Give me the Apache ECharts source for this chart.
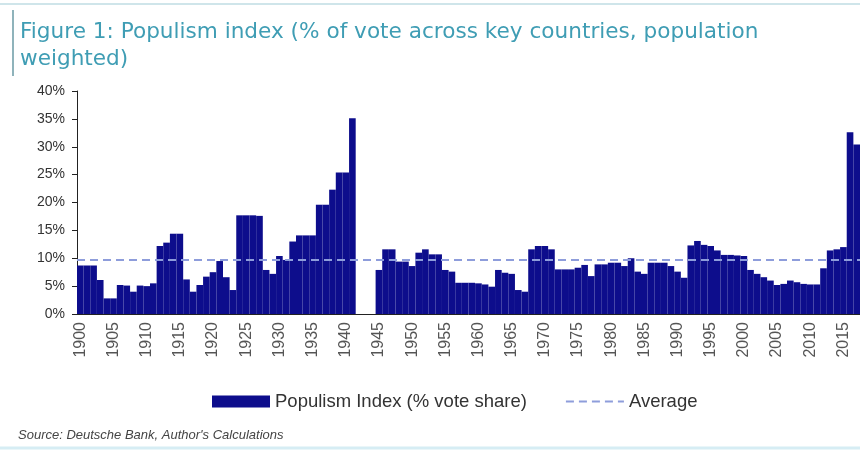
<!DOCTYPE html>
<html>
<head>
<meta charset="utf-8">
<script src="https://cdn.jsdelivr.net/npm/echarts@6/dist/echarts.min.js"></script>
<style>
  html, body { margin: 0; padding: 0; background: #fff; }
  #chart { width: 860px; height: 450px; }
</style>
</head>
<body>
<div id="chart"></div>
<script>
// years 1900 - 2017
var years = [];
for (var y = 1900; y <= 2017; y++) {
    years.push(String(y));
}

// populism index, % vote share (null = no elections 1942-44)
var populism = [
    8.7, 8.7, 8.7, 6.1, 2.8, 2.8, 5.2, 5.1, 4.0, 5.1,          // 1900s
    5.0, 5.5, 12.2, 12.8, 14.4, 14.4, 6.2, 4.0, 5.2, 6.7,      // 1910s
    7.5, 9.5, 6.6, 4.3, 17.7, 17.7, 17.7, 17.6, 7.9, 7.2,      // 1920s
    10.4, 9.7, 13.0, 14.1, 14.1, 14.1, 19.6, 19.6, 22.3, 25.4, // 1930s
    25.4, 35.1, null, null, null, 7.9, 11.6, 11.6, 9.4, 9.4,   // 1940s
    8.6, 11.0, 11.6, 10.7, 10.7, 7.9, 7.6, 5.6, 5.6, 5.6,      // 1950s
    5.5, 5.3, 4.9, 7.9, 7.4, 7.2, 4.3, 4.0, 11.6, 12.2,        // 1960s
    12.2, 11.6, 8.0, 8.0, 8.0, 8.3, 8.8, 6.8, 8.9, 8.9,        // 1970s
    9.2, 9.2, 8.6, 10.0, 7.6, 7.2, 9.2, 9.2, 9.2, 8.6,         // 1980s
    7.6, 6.5, 12.3, 13.1, 12.4, 12.2, 11.4, 10.6, 10.6, 10.5,  // 1990s
    10.4, 7.9, 7.2, 6.6, 6.0, 5.2, 5.4, 6.0, 5.7, 5.4,         // 2000s
    5.3, 5.3, 8.2, 11.4, 11.6, 12.0, 32.6, 30.4                // 2010s
];

var averageValue = 9.7;

var seriesNames = ['Populism Index (% vote share)', 'Average'];

var barColor = '#0d0d8c';
var avgColor = '#8e9ddb';
var font = 'Liberation Sans';

var myChart = echarts.init(document.getElementById('chart'));

var option = {
    animation: false,
    textStyle: { fontFamily: font },
    title: {
        text: 'Figure 1: Populism index (% of vote across key countries, population\nweighted)',
        left: 15,
        top: 14,
        textStyle: {
            fontFamily: 'DejaVu Sans',
            fontSize: 21.6,
            fontWeight: 'normal',
            color: '#3f9db4',
            lineHeight: 27
        }
    },
    grid: {
        left: 77,
        right: 0,
        top: 91,
        bottom: 136
    },
    legend: {
        left: 207,
        top: 387,
        itemWidth: 58,
        itemHeight: 12,
        itemGap: 38,
        textStyle: { fontSize: 18.5, color: '#333' },
        data: [
            { name: seriesNames[0], icon: 'rect' },
            { name: seriesNames[1], itemStyle: { opacity: 0 } }
        ]
    },
    xAxis: {
        type: 'category',
        data: years,
        boundaryGap: true,
        axisLine: { lineStyle: { color: '#222', width: 1 } },
        axisTick: { interval: 4, length: 5, lineStyle: { color: '#222' } },
        axisLabel: {
            interval: 4,
            rotate: 90,
            margin: 8,
            fontSize: 16,
            color: '#555'
        },
        splitLine: { show: false }
    },
    yAxis: {
        type: 'value',
        min: 0,
        max: 40,
        interval: 5,
        axisLine: { show: true, lineStyle: { color: '#222', width: 1 } },
        axisTick: { show: true, length: 5, lineStyle: { color: '#222' } },
        axisLabel: {
            formatter: '{value}%',
            fontSize: 14,
            margin: 12,
            color: '#333'
        },
        splitLine: { show: false }
    },
    series: [
        {
            name: seriesNames[0],
            type: 'bar',
            data: populism,
            barCategoryGap: '0%',
            itemStyle: { color: barColor },
            markLine: {
                silent: true,
                symbol: ['none', 'none'],
                label: { show: false },
                lineStyle: { color: avgColor, type: [8, 5], width: 2 },
                data: [{ yAxis: averageValue }]
            }
        },
        {
            name: seriesNames[1],
            type: 'line',
            data: [],
            symbol: 'none',
            itemStyle: { color: avgColor },
            lineStyle: { color: avgColor, type: [8, 5], width: 2 }
        }
    ],
    graphic: [
        {
            type: 'line',
            shape: { x1: 0, y1: 4, x2: 860, y2: 4 },
            style: { stroke: '#cfe5ea', lineWidth: 2 }
        },
        {
            type: 'line',
            shape: { x1: 13, y1: 10, x2: 13, y2: 76 },
            style: { stroke: '#8fb3bb', lineWidth: 2 }
        },
        {
            type: 'text',
            left: 18,
            top: 429,
            style: {
                text: "Source: Deutsche Bank, Author's Calculations",
                font: 'italic 13px "Liberation Sans"',
                fill: '#444'
            }
        },
        {
            type: 'line',
            shape: { x1: 0, y1: 448, x2: 860, y2: 448 },
            style: { stroke: '#d6edf4', lineWidth: 3 }
        }
    ]
};

myChart.setOption(option);
</script>
</body>
</html>
